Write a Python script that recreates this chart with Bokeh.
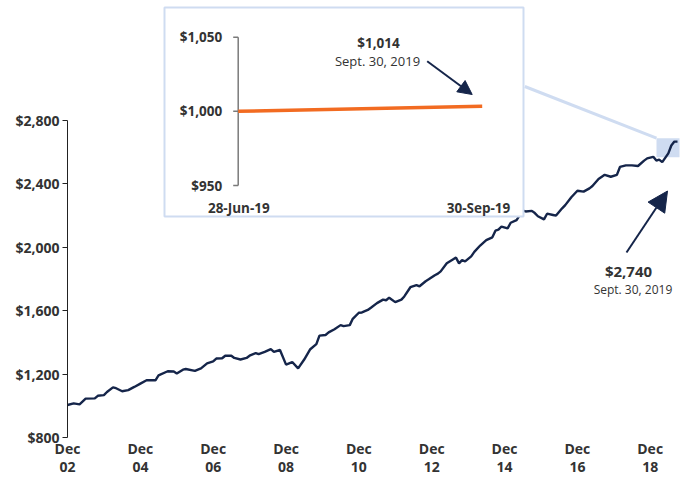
import pandas as pd
from bokeh.plotting import figure
from bokeh.models import (Range1d, FixedTicker, NumeralTickFormatter, Arrow,
                          NormalHead, ColumnDataSource)
from bokeh.core.properties import value
from bokeh.embed import file_html
from bokeh.resources import INLINE

# ---------------- data ----------------
dates = ["2002-12", "2003-02", "2003-04", "2003-06", "2003-09", "2003-10", "2003-12",
         "2004-01", "2004-03", "2004-04", "2004-06", "2004-08", "2004-10", "2004-12",
         "2005-02", "2005-05", "2005-06", "2005-09", "2005-11", "2005-12",
         "2006-02", "2006-03", "2006-06", "2006-07", "2006-08", "2006-10", "2006-12",
         "2007-01", "2007-03", "2007-04", "2007-06", "2007-07", "2007-09", "2007-11", "2007-12",
         "2008-02", "2008-03", "2008-05", "2008-07", "2008-08", "2008-10", "2008-12",
         "2009-02", "2009-04", "2009-06", "2009-08", "2009-10", "2009-11",
         "2010-01", "2010-02", "2010-04", "2010-06", "2010-07", "2010-09", "2010-10", "2010-12",
         "2011-01", "2011-03", "2011-04", "2011-06", "2011-08", "2011-09", "2011-10", "2011-12",
         "2012-02", "2012-03", "2012-05", "2012-07", "2012-08", "2012-10", "2012-11",
         "2013-01", "2013-02", "2013-03", "2013-05", "2013-07", "2013-08", "2013-09", "2013-10", "2013-11",
         "2014-01", "2014-02", "2014-04", "2014-06", "2014-08", "2014-09", "2014-10", "2014-11",
         "2015-01", "2015-02", "2015-04", "2015-06", "2015-07", "2015-09", "2015-10", "2015-11",
         "2016-01", "2016-02", "2016-04", "2016-05", "2016-07", "2016-08", "2016-10", "2016-12",
         "2017-02", "2017-04", "2017-05", "2017-07", "2017-09", "2017-11",
         "2018-01", "2018-02", "2018-04", "2018-06", "2018-08", "2018-10", "2018-11",
         "2019-01", "2019-02", "2019-03", "2019-04", "2019-06", "2019-07", "2019-08", "2019-09"]
values = [1005, 1015, 1009, 1045, 1047, 1063, 1067,
          1087, 1116, 1111, 1092, 1099, 1119, 1140,
          1161, 1161, 1192, 1218, 1216, 1204,
          1228, 1232, 1220, 1228, 1236, 1268, 1280,
          1298, 1300, 1316, 1316, 1302, 1292, 1302, 1316,
          1333, 1326, 1340, 1357, 1340, 1352, 1260,
          1276, 1236, 1292, 1357, 1389, 1443,
          1447, 1463, 1483, 1509, 1503, 1509, 1549, 1587,
          1589, 1605, 1619, 1648, 1670, 1666, 1682, 1654,
          1670, 1690, 1748, 1762, 1754, 1786, 1798,
          1824, 1834, 1848, 1899, 1923, 1935, 1899, 1919, 1911,
          1943, 1971, 2011, 2045, 2063, 2105, 2111, 2131,
          2119, 2155, 2172, 2232, 2226, 2230, 2216, 2196,
          2176, 2212, 2204, 2200, 2246, 2266, 2316, 2357,
          2351, 2372, 2387, 2431, 2457, 2445,
          2457, 2507, 2517, 2517, 2513, 2547, 2561,
          2571, 2547, 2553, 2537, 2593, 2642, 2667, 2667]

y_ticks = [800, 1200, 1600, 2000, 2400, 2800]
x_tick_dates = ["2002-12", "2004-12", "2006-12", "2008-12", "2010-12",
                "2012-12", "2014-12", "2016-12", "2018-12"]
x_tick_labels = ["Dec\n02", "Dec\n04", "Dec\n06", "Dec\n08", "Dec\n10",
                 "Dec\n12", "Dec\n14", "Dec\n16", "Dec\n18"]

inset_dates = ["2019-06-28", "2019-09-30"]
inset_values = [1000, 1003.4]
inset_ticks = [950, 1000, 1050]
inset_x_labels = ["28-Jun-19", "30-Sep-19"]

end_value_label = "$2,740"
end_date_label = "Sept.  30, 2019"
inset_value_label = "$1,014"
inset_date_label = "Sept. 30, 2019"

# ---------------- layout ----------------
W, H = 680, 481
FL, FR, FT, FB = 67, 679, 0, 437      # frame edges in figure px
LAST_X = 677                          # px of last monthly point
Y_TOP_TICK_PX = 120                   # px of the highest y tick
NAVY = "#15254a"
ORANGE = "#f26b21"
LIGHT = "#cfdcf1"
TXT = "#333333"
FONT = "Open Sans"

def ms(s):
    return pd.Timestamp(s).value // 10**6

dt = pd.to_datetime(dates, format="%Y-%m")
x0 = ms(dates[0])
x_last = ms(dates[-1])
x1 = x0 + (x_last - x0) * (FR - FL) / (LAST_X - FL)
y0 = float(y_ticks[0])
y1 = y0 + (y_ticks[-1] - y_ticks[0]) * (FB - FT) / (FB - Y_TOP_TICK_PX)

def mx(fx):
    return x0 + (fx - FL) / (FR - FL) * (x1 - x0)

def my(fy):
    return y1 - (fy - FT) / (FB - FT) * (y1 - y0)

# inset mapping
d0, d1 = ms(inset_dates[0]), ms(inset_dates[-1])
IX0, IX1, IY_TOP, IY_BOT = 237.7, 481.7, 36.7, 185.0

def ix(fx):
    return d0 + (fx - IX0) * (d1 - d0) / (IX1 - IX0)

def iy(fy):
    return inset_ticks[-1] - (fy - IY_TOP) * (inset_ticks[-1] - inset_ticks[0]) / (IY_BOT - IY_TOP)

p = figure(width=W, height=H, output_backend="svg", toolbar_location=None,
           x_axis_type="datetime",
           x_range=Range1d(x0, x1), y_range=Range1d(y0, y1),
           min_border_left=FL, min_border_right=W - FR,
           min_border_top=FT, min_border_bottom=H - FB)
p.extra_x_ranges = {"inset": Range1d(ix(FL), ix(FR))}
p.extra_y_ranges = {"inset": Range1d(iy(FB), iy(FT))}
p.outline_line_color = None
p.xgrid.visible = False
p.ygrid.visible = False
p.background_fill_color = "white"

# y axis
ya = p.yaxis[0]
ya.ticker = FixedTicker(ticks=y_ticks)
ya.formatter = NumeralTickFormatter(format="$0,0")
ya.bounds = (y_ticks[0], y_ticks[-1])
ya.axis_line_color = "#222222"
ya.major_tick_line_color = "#222222"
ya.major_tick_out = 5
ya.major_tick_in = 0
ya.minor_tick_line_color = None
ya.major_label_standoff = 3
ya.major_label_text_font = FONT
ya.major_label_text_font_style = "bold"
ya.major_label_text_font_size = "14px"
ya.major_label_text_color = TXT

# x axis
xa = p.xaxis[0]
xt = [ms(d) for d in x_tick_dates]
xa.ticker = FixedTicker(ticks=xt)
xa.major_label_overrides = {t: lab for t, lab in zip(xt, x_tick_labels)}
xa.axis_line_color = None
xa.major_tick_line_color = None
xa.major_tick_out = 0
xa.major_tick_in = 0
xa.minor_tick_line_color = None
xa.minor_tick_out = 0
xa.major_label_standoff = 1
xa.major_label_text_font = FONT
xa.major_label_text_font_style = "bold"
xa.major_label_text_font_size = "14px"
xa.major_label_text_color = TXT
xa.major_label_text_line_height = 0.95

# connector and highlight
HL_L, HL_R, HL_T, HL_B = 656, 682, 137.7, 156.8
p.segment(x0=[mx(524.3)], y0=[my(86)], x1=[mx(HL_L)], y1=[my(HL_T)],
          line_color=LIGHT, line_width=3)
p.quad(left=[mx(HL_L)], right=[mx(HL_R)], top=[my(HL_T)], bottom=[my(HL_B)],
       fill_color=LIGHT, line_color=None)

# main line
src = ColumnDataSource(data=dict(x=dt, y=values))
p.line("x", "y", source=src, line_color=NAVY, line_width=2.4)

# inset box
p.quad(left=[mx(164)], right=[mx(523)], top=[my(7)], bottom=[my(216)],
       fill_color="white", line_color=LIGHT, line_width=2)

kw = dict(x_range_name="inset", y_range_name="inset")
# inset axis
p.segment(x0=[d0], y0=[inset_ticks[0]], x1=[d0], y1=[inset_ticks[-1]],
          line_color="#7a7a7a", line_width=1.5, **kw)
p.segment(x0=[ix(IX0 - 5)] * len(inset_ticks), y0=inset_ticks,
          x1=[d0] * len(inset_ticks), y1=inset_ticks,
          line_color="#7a7a7a", line_width=1.5, **kw)
p.text(x=[ix(IX0 - 16)] * len(inset_ticks), y=inset_ticks,
       text=[f"${v:,}" for v in inset_ticks],
       text_align="right", text_baseline="middle",
       text_font=value(FONT), text_font_style="bold", text_font_size="13.5px",
       text_color=TXT, **kw)
p.text(x=[ix(238.3), ix(478)], y=[iy(207.7)] * 2, text=inset_x_labels,
       text_align="center", text_baseline="middle",
       text_font=value(FONT), text_font_style="bold", text_font_size="13.5px",
       text_color=TXT, **kw)
p.line(x=pd.to_datetime(inset_dates), y=inset_values, line_color=ORANGE,
       line_width=3.5, **kw)

# inset annotation
p.text(x=[ix(378)], y=[iy(42)], text=[inset_value_label], text_align="center",
       text_baseline="middle", text_font=value(FONT), text_font_style="bold",
       text_font_size="13.5px", text_color=TXT, **kw)
p.text(x=[ix(377)], y=[iy(60.7)], text=[inset_date_label], text_align="center",
       text_baseline="middle", text_font=value(FONT), text_font_size="13px",
       text_color=TXT, **kw)
p.add_layout(Arrow(end=NormalHead(size=14, fill_color=NAVY, line_color=NAVY),
                   x_start=mx(426.7), y_start=my(60.7), x_end=mx(471.7), y_end=my(94),
                   line_color=NAVY, line_width=2))

# main annotation
p.text(x=[mx(628)], y=[my(270)], text=[end_value_label], text_align="center",
       text_baseline="middle", text_font=value(FONT), text_font_style="bold",
       text_font_size="15px", text_color=TXT)
p.text(x=[mx(634)], y=[my(288.5)], text=[end_date_label], text_align="center",
       text_baseline="middle", text_font=value(FONT), text_font_size="12px",
       text_color=TXT)
p.add_layout(Arrow(end=NormalHead(size=20, fill_color=NAVY, line_color=NAVY),
                   x_start=mx(626), y_start=my(252), x_end=mx(667), y_end=my(190.5),
                   line_color=NAVY, line_width=2))

open("out.html", "w").write(file_html(p, INLINE))
